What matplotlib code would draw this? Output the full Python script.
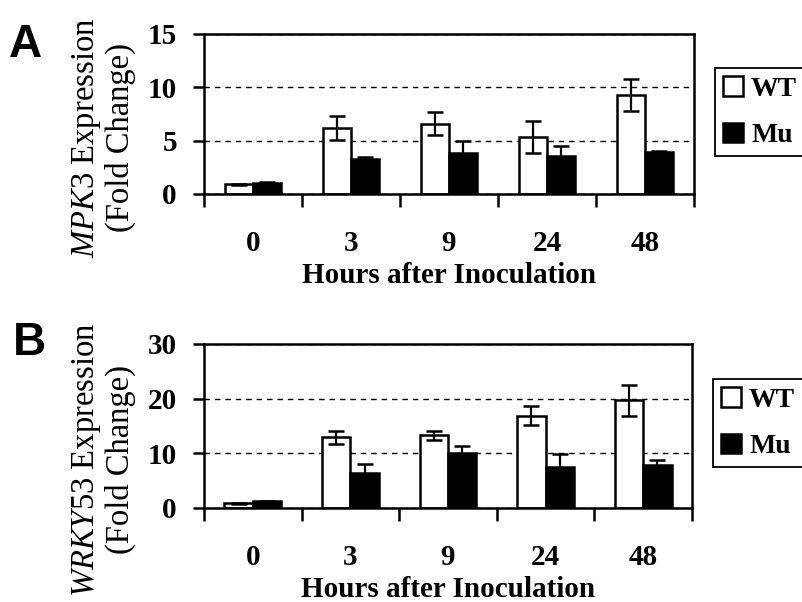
import matplotlib
matplotlib.use("Agg")
import matplotlib.pyplot as plt
import numpy as np

# ---- data ----
hours = ["0", "3", "9", "24", "48"]
series_names = ["WT", "Mu"]

mpk3_wt = [0.9, 6.2, 6.6, 5.3, 9.3]
mpk3_wt_err = [0.05, 1.1, 1.1, 1.5, 1.5]
mpk3_mu = [1.05, 3.3, 3.8, 3.6, 3.9]
mpk3_mu_err = [0.05, 0.15, 1.2, 0.9, 0.15]

wrky_wt = [0.9, 12.9, 13.3, 16.9, 19.7]
wrky_wt_err = [0.1, 1.2, 0.8, 1.8, 2.8]
wrky_mu = [1.2, 6.4, 10.0, 7.5, 7.9]
wrky_mu_err = [0.1, 1.6, 1.4, 2.3, 0.8]

ylim_a = 15
yticks_a = [0, 5, 10, 15]
ylim_b = 30
yticks_b = [0, 10, 20, 30]

plt.rcParams['mathtext.fontset'] = 'custom'
plt.rcParams['mathtext.it'] = 'Liberation Serif:italic'
plt.rcParams['mathtext.rm'] = 'Liberation Serif'
plt.rcParams['mathtext.bf'] = 'Liberation Serif:bold'

SERIF = 'Liberation Serif'
FS = 21
LW = 1.8

fig = plt.figure(figsize=(8.03, 6.02), dpi=100)
fig.patch.set_facecolor('white')

W = 803.0
H = 602.0

def make_panel(rect, wt, wt_err, mu, mu_err, ymax, yticks, ylabel, label_y, letter, letter_pos, leg_pos):
    ax = fig.add_axes(rect)
    x = np.arange(len(hours))
    bw = 0.29
    ax.bar(x - bw / 2, wt, width=bw, color='white', edgecolor='black', linewidth=LW,
           label=series_names[0], zorder=2)
    ax.bar(x + bw / 2, mu, width=bw, color='black', edgecolor='black', linewidth=LW,
           label=series_names[1], zorder=2)
    ax.errorbar(x - bw / 2, wt, yerr=wt_err, fmt='none', ecolor='black',
                elinewidth=1.6, capsize=5.5, capthick=1.8, zorder=3)
    ax.errorbar(x + bw / 2, mu, yerr=mu_err, fmt='none', ecolor='black',
                elinewidth=1.6, capsize=5.5, capthick=1.8, zorder=3)
    ax.set_xlim(-0.5, len(hours) - 0.5)
    ax.set_ylim(0, ymax)
    ax.set_yticks(yticks)
    ax.set_yticklabels([str(t) for t in yticks], fontfamily=SERIF, fontweight='bold', fontsize=FS)
    ax.set_axisbelow(True)
    ax.yaxis.grid(True, color='black', linestyle=(0, (4, 3.5)), linewidth=1.0)
    # category labels at centers, ticks at boundaries
    ax.set_xticks(x)
    ax.set_xticklabels(hours, fontfamily=SERIF, fontweight='bold', fontsize=FS)
    ax.tick_params(axis='x', which='major', length=0, pad=26)
    ax.set_xticks(np.arange(-0.5, len(hours)), minor=True)
    ax.tick_params(axis='x', which='minor', length=9.5, width=LW, direction='out')
    ax.tick_params(axis='y', which='major', length=8, width=LW, direction='out', pad=11.5)
    for s in ax.spines.values():
        s.set_linewidth(LW)
    ax.set_xlabel("Hours after Inoculation", fontfamily=SERIF, fontweight='bold', fontsize=FS,
                  va='center')
    ax.xaxis.set_label_coords(0.5, -81.5 / (rect[3] * H))
    ax.set_ylabel(ylabel, fontfamily=SERIF, fontweight='normal', fontsize=23.5, va='center',
                  multialignment='center', linespacing=1.1)
    ax.yaxis.set_label_coords(-(204 - 103) / (rect[2] * W), label_y)
    fig.text(letter_pos[0] / W, 1 - letter_pos[1] / H, letter, family='Liberation Sans',
             fontweight='bold', fontsize=33, ha='left', va='baseline')
    leg = ax.legend(loc='upper left', bbox_to_anchor=(leg_pos[0] / W, 1 - leg_pos[1] / H),
                    bbox_transform=fig.transFigure, borderaxespad=0, frameon=True,
                    fancybox=False, shadow=False, framealpha=1, edgecolor='black',
                    prop={'family': SERIF, 'weight': 'bold', 'size': 20},
                    handlelength=0.7, handleheight=0.7, handletextpad=0.3,
                    labelspacing=0.75, borderpad=0.3)
    leg.get_frame().set_linewidth(1.3)
    return ax

rectA = [204 / W, 1 - 194 / H, (694 - 204) / W, (194 - 34) / H]
rectB = [204 / W, 1 - 508 / H, (692 - 204) / W, (508 - 344) / H]

make_panel(rectA, mpk3_wt, mpk3_wt_err, mpk3_mu, mpk3_mu_err, ylim_a, yticks_a,
           r"$\mathit{MPK3}$ Expression" + "\n(Fold Change)", 0.353, "A", (9, 57), (715, 68))
make_panel(rectB, wrky_wt, wrky_wt_err, wrky_mu, wrky_mu_err, ylim_b, yticks_b,
           r"$\mathit{WRKY53}$ Expression" + "\n(Fold Change)", 0.293, "B", (13, 355), (713, 379))

fig.savefig("out.png", dpi=100, facecolor='white')
